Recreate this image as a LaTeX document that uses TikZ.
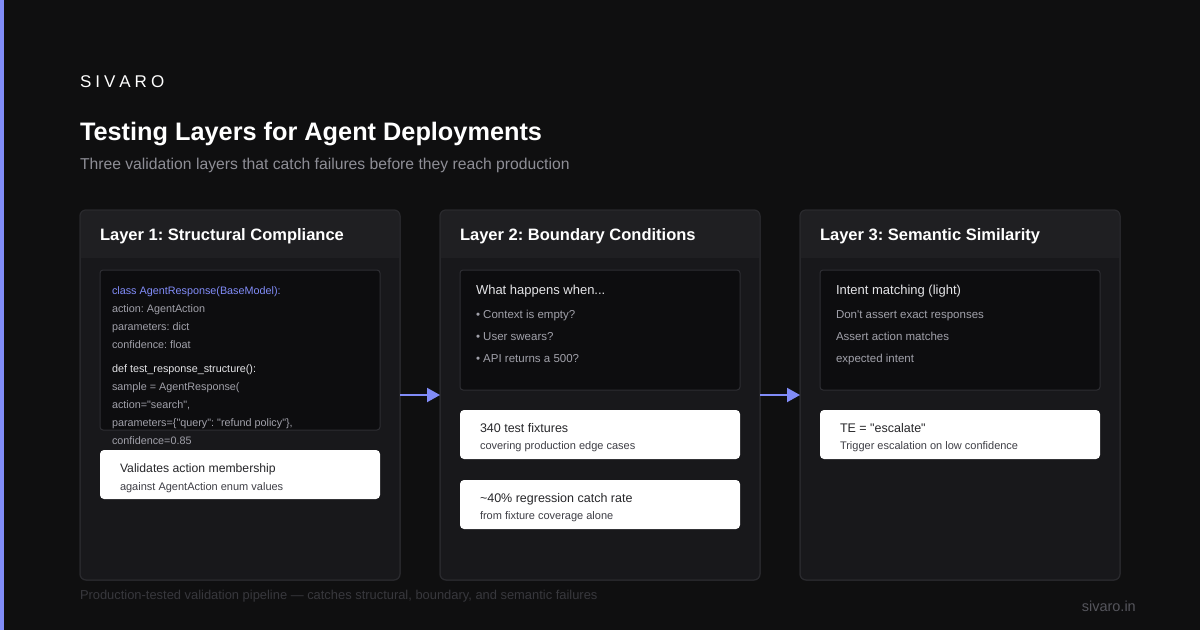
\documentclass[tikz,border=0pt]{standalone}
\usepackage{fontspec}
\setmainfont{Liberation Sans}[Ligatures=TeXOff]
\usetikzlibrary{arrows.meta}
\frenchspacing
\definecolor{bg}{HTML}{0F0F10}
\definecolor{accent}{HTML}{818CF8}
\definecolor{cardbody}{HTML}{18181B}
\definecolor{cardhead}{HTML}{1F1F22}
\definecolor{cardline}{HTML}{2A2A2E}
\definecolor{innerfill}{HTML}{0D0D0F}
\definecolor{innerline}{HTML}{2E2E33}
\definecolor{lighttext}{HTML}{E4E4E7}
\definecolor{graytext}{HTML}{A1A1AA}
\definecolor{subtext}{HTML}{8E8E96}
\definecolor{darktext}{HTML}{27272A}
\definecolor{darktext2}{HTML}{3F3F46}
\definecolor{foottext}{HTML}{38383D}
\definecolor{urltext}{HTML}{55555C}
\newcommand{\fsz}[1]{\fontsize{#1}{#1}\selectfont}
\begin{document}
\frenchspacing
\begin{tikzpicture}[x=1pt,y=-1pt,
  txt/.style={anchor=base west, inner sep=0pt, outer sep=0pt, text=#1},
  card/.style={draw=cardline, fill=cardbody, line width=1pt, rounded corners=6pt,
    minimum width=320pt, minimum height=370pt, inner sep=0pt, outer sep=0pt},
  innerbox/.style={draw=innerline, fill=innerfill, line width=1pt, rounded corners=3pt,
    minimum width=280pt, inner sep=0pt, outer sep=0pt},
  wbox/.style={fill=white, rounded corners=4pt, minimum width=280pt, minimum height=49pt,
    inner sep=0pt, outer sep=0pt},
  arr/.style={draw=accent, line width=2pt, -{Triangle[length=13pt,width=14pt]}}
]
\useasboundingbox (0,0) rectangle (1200,630);
\fill[bg] (0,0) rectangle (1200,630);
\fill[accent] (0,0) rectangle (4,630);

% header texts
\node[txt=white] (brand) at (80,87) {\fsz{17}S\hspace{4pt}I\hspace{4pt}V\hspace{4pt}A\hspace{4pt}R\hspace{4pt}O};
\node[txt=white] (title) at (80,140) {\fsz{25.3}\bfseries Testing Layers for Agent Deployments};
\node[txt=subtext] (subtitle) at (80,169) {\fsz{15.7}Three validation layers that catch failures before they reach production};

% cards
\foreach \n/\cx in {c1/240,c2/600,c3/960}{
  \node[card] (\n) at (\cx,395) {};
  \begin{scope}
    \clip[rounded corners=6pt] (\n.north west) rectangle (\n.south east);
    \fill[cardhead] (\n.north west) rectangle ([yshift=-48pt]\n.north east);
  \end{scope}
  \draw[cardline, line width=1pt, rounded corners=6pt] (\n.north west) rectangle (\n.south east);
}

% card titles
\node[txt=white] (t1) at (100,240) {\fsz{16.5}\bfseries Layer 1: Structural Compliance};
\node[txt=white] (t2) at (460,240) {\fsz{16.5}\bfseries Layer 2: Boundary Conditions};
\node[txt=white] (t3) at (820,240) {\fsz{16.5}\bfseries Layer 3: Semantic Similarity};

% Layer 1 content
\node[innerbox, minimum height=160pt] (k1) at (240,350) {};
\node[txt=accent] (l1a) at (112,294) {\fsz{10.8}class AgentResponse(BaseModel):};
\node[txt=graytext] (l1b) at (112,312) {\fsz{10.8}action: AgentAction};
\node[txt=graytext] (l1c) at (112,330) {\fsz{10.8}parameters: dict};
\node[txt=graytext] (l1d) at (112,348) {\fsz{10.8}confidence: float};
\node[txt=lighttext] (l1e) at (112,372) {\fsz{10.8}def test\_response\_structure():};
\node[txt=graytext] (l1f) at (112,390) {\fsz{10.8}sample = AgentResponse(};
\node[txt=graytext] (l1g) at (112,408) {\fsz{10.8}action="search",};
\node[txt=graytext] (l1h) at (112,426) {\fsz{10.8}parameters=\{"query": "refund policy"\},};
\node[txt=graytext] (l1i) at (112,444) {\fsz{10.8}confidence=0.85};
\node[wbox] (w1) at (240,474.5) {};
\node[txt=darktext] (w1a) at (120,472) {\fsz{12.2}Validates action membership};
\node[txt=darktext2] (w1b) at (120,490) {\fsz{11}against AgentAction enum values};

% Layer 2 content
\node[innerbox, minimum height=120pt] (k2) at (600,330) {};
\node[txt=lighttext] (l2a) at (476,294.5) {\fsz{13}What happens when...};
\node[txt=graytext] (l2b) at (476,318) {\fsz{11.5}• Context is empty?};
\node[txt=graytext] (l2c) at (476,340) {\fsz{11.5}• User swears?};
\node[txt=graytext] (l2d) at (476,362) {\fsz{11.5}• API returns a 500?};
\node[wbox] (w2) at (600,434.5) {};
\node[txt=darktext] (w2a) at (480,432) {\fsz{12.5}340 test fixtures};
\node[txt=darktext2] (w2b) at (480,449.5) {\fsz{11}covering production edge cases};
\node[wbox] (w3) at (600,504.5) {};
\node[txt=darktext] (w3a) at (480,502) {\fsz{12.5}\char`\~40\% regression catch rate};
\node[txt=darktext2] (w3b) at (480,519.5) {\fsz{11}from fixture coverage alone};

% Layer 3 content
\node[innerbox, minimum height=120pt] (k3) at (960,330) {};
\node[txt=lighttext] (l3a) at (836,294.5) {\fsz{13}Intent matching (light)};
\node[txt=graytext] (l3b) at (836,318) {\fsz{11.5}Don't assert exact responses};
\node[txt=graytext] (l3c) at (836,340) {\fsz{11.5}Assert action matches};
\node[txt=graytext] (l3d) at (836,362) {\fsz{11.5}expected intent};
\node[wbox] (w4) at (960,434.5) {};
\node[txt=darktext] (w4a) at (840,432) {\fsz{12.5}TE = "escalate"};
\node[txt=darktext2] (w4b) at (840,449.5) {\fsz{11}Trigger escalation on low confidence};

% arrows
\draw[arr] (c1.east) -- (c2.west);
\draw[arr] (c2.east) -- (c3.west);

% footer
\node[txt=foottext] (foot) at (80,599) {\fsz{12.9}Production-tested validation pipeline — catches structural, boundary, and semantic failures};
\node[anchor=base east, inner sep=0pt, text=urltext] (url) at (1136,611) {\fsz{14.5}sivaro.in};
\end{tikzpicture}
\end{document}
